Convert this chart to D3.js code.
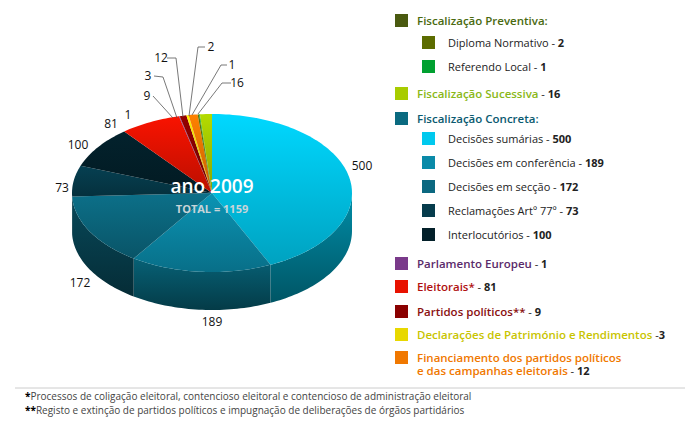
<!DOCTYPE html><html><head><meta charset="utf-8"><script src="https://cdn.jsdelivr.net/npm/d3@7"></script>
<style>body{margin:0;background:#fff}text{font-family:"Open Sans",sans-serif}</style></head><body>
<svg id="c" width="690" height="427"></svg>
<script>
const labels=["Decisões sumárias","Decisões em conferência","Decisões em secção","Reclamações Artº 77º","Interlocutórios","Eleitorais","Parlamento Europeu","Partidos políticos","Declarações de Património","Financiamento","Diploma Normativo","Referendo Local","Fiscalização Sucessiva"];
const values=[500,189,172,73,100,81,1,9,3,12,2,1,16];
const colors=["#00c9ee","#0a8aa8","#0b6880","#063c4c","#03202a","#e81200","#7a3a8a","#8a0000","#f2e200","#f27800","#5c6c00","#00a030","#a8cc00"];
const labelPos=[[362,166],[212,322],[80,283],[62,188],[78,145],[111,124],[128,115],[147,96],[148,76],[161,58],[211,47],[232,65],[237,83]];
const leader=[null,null,null,null,null,null,null,[[153,96],[173,118]],[[154,76],[163,77],[177,118]],[[167,58],[176,58],[183,117]],[[205,47],[198,47],[189,116]],[[227,65],[221,65],[192,115]],[[231,83],[222,83],[198,114]]];
const legend=[
 {t:"Fiscalização Preventiva:",v:"",c:"#4a5a10",tc:"#4a6a10",lvl:0,y:21},
 {t:"Diploma Normativo",v:"2",c:"#5c6c00",tc:"#222",lvl:1,y:43},
 {t:"Referendo Local",v:"1",c:"#00a030",tc:"#222",lvl:1,y:67},
 {t:"Fiscalização Sucessiva",v:"16",c:"#a8cc00",tc:"#8ab818",lvl:0,y:94},
 {t:"Fiscalização Concreta:",v:"",c:"#0a6a80",tc:"#0a5a70",lvl:0,y:119},
 {t:"Decisões sumárias",v:"500",c:"#00c9ee",tc:"#222",lvl:1,y:139},
 {t:"Decisões em conferência",v:"189",c:"#0a8aa8",tc:"#222",lvl:1,y:163},
 {t:"Decisões em secção",v:"172",c:"#0b6880",tc:"#222",lvl:1,y:187},
 {t:"Reclamações Artº 77º",v:"73",c:"#063c4c",tc:"#222",lvl:1,y:211},
 {t:"Interlocutórios",v:"100",c:"#03202a",tc:"#222",lvl:1,y:235},
 {t:"Parlamento Europeu",v:"1",c:"#7a3a8a",tc:"#5a2a6a",lvl:0,y:264},
 {t:"Eleitorais*",v:"81",c:"#e81200",tc:"#b01010",lvl:0,y:287},
 {t:"Partidos políticos**",v:"9",c:"#8a0000",tc:"#8a1010",lvl:0,y:312},
 {t:"Declarações de Património e Rendimentos",v:"3",c:"#e8d800",tc:"#c8c400",lvl:0,y:335,nosp:true},
 {t:"Financiamento dos partidos políticos",t2:"e das campanhas eleitorais",v:"12",c:"#f07800",tc:"#f07800",lvl:0,y:358}
];
const svg=d3.select("#c"),defs=svg.append("defs");
const cx=212,cy=193,rx=140,ry=79,dep=38;
const pie=d3.pie().sort(null).value(d=>d)(values);
const P=a=>[cx+rx*Math.sin(a),cy-ry*Math.cos(a)];
function arcPts(a0,a1,dy){const n=Math.max(2,Math.ceil((a1-a0)*40));return d3.range(n+1).map(i=>{const a=a0+(a1-a0)*i/n;const p=P(a);return [p[0],p[1]+dy];});}
colors.forEach((c,i)=>{
 const g=defs.append("linearGradient").attr("id","t"+i).attr("x1",0).attr("y1",0).attr("x2",0).attr("y2",1);
 g.append("stop").attr("offset",0).attr("stop-color",d3.color(c).brighter(0.2));
 g.append("stop").attr("offset",1).attr("stop-color",d3.color(c).darker(0.6));
 const s=defs.append("linearGradient").attr("id","s"+i).attr("x1",0).attr("y1",0).attr("x2",0).attr("y2",1);
 s.append("stop").attr("offset",0).attr("stop-color",d3.color(c).darker(1.0));
 s.append("stop").attr("offset",1).attr("stop-color",d3.color(c).darker(2.4));
});
const line=d3.line();
pie.forEach((d,i)=>{
 const a0=Math.max(d.startAngle,Math.PI/2),a1=Math.min(d.endAngle,Math.PI*1.5);
 if(a1<=a0)return;
 const top=arcPts(a0,a1,0),bot=arcPts(a0,a1,dep).reverse();
 svg.append("path").attr("d",line(top.concat(bot))+"Z").attr("fill",`url(#s${i})`);
});
pie.forEach((d,i)=>{
 const pts=[[cx,cy]].concat(arcPts(d.startAngle,d.endAngle,0));
 svg.append("path").attr("d",line(pts)+"Z").attr("fill",`url(#t${i})`);
});
pie.forEach((d,i)=>{
 if(leader[i])svg.append("path").attr("d",line(leader[i])).attr("fill","none").attr("stroke","#555").attr("stroke-width",0.8);
 svg.append("text").attr("x",labelPos[i][0]).attr("y",labelPos[i][1]).attr("text-anchor","middle").attr("dy","0.35em").attr("font-size",12).attr("fill","#111").text(values[i]);
});
svg.append("text").attr("x",cx).attr("y",cy).attr("text-anchor","middle").attr("font-size",19).attr("font-weight",600).attr("fill","#fff").text("ano 2009");
svg.append("text").attr("x",cx).attr("y",cy+20).attr("text-anchor","middle").attr("font-size",11).attr("font-weight","bold").attr("fill","#c8d4d8").text("TOTAL = "+d3.sum(values));
legend.forEach(l=>{
 const sx=l.lvl?422:395,tx=l.lvl?448:417,fs=l.lvl?11:11.5;
 svg.append("rect").attr("x",sx).attr("y",l.y-7).attr("width",13).attr("height",13).attr("fill",l.c);
 const t=svg.append("text").attr("x",tx).attr("y",l.y).attr("dy","0.35em").attr("font-size",fs);
 t.append("tspan").attr("fill",l.tc).attr("font-weight",l.lvl?"normal":"600").text(l.t);
 if(l.t2){const t2=svg.append("text").attr("x",tx).attr("y",l.y+13).attr("dy","0.35em").attr("font-size",fs);
  t2.append("tspan").attr("fill",l.tc).attr("font-weight","600").text(l.t2);
  t2.append("tspan").attr("fill","#222").attr("font-size",11).text(" - ");t2.append("tspan").attr("font-weight","bold").attr("font-size",11).attr("fill","#222").text(l.v);}
 else if(l.v){t.append("tspan").attr("fill","#222").attr("font-size",11).text(l.nosp?" -":" - ");t.append("tspan").attr("font-weight","bold").attr("font-size",11).attr("fill","#222").text(l.v);}
});
svg.append("line").attr("x1",15).attr("x2",685).attr("y1",388).attr("y2",388).attr("stroke","#ccc");
const f1=svg.append("text").attr("x",25).attr("y",400).attr("font-size",10).attr("fill","#444");
f1.append("tspan").attr("font-weight","bold").attr("fill","#000").text("*");f1.append("tspan").text("Processos de coligação eleitoral, contencioso eleitoral e contencioso de administração eleitoral");
const f2=svg.append("text").attr("x",25).attr("y",414).attr("font-size",10).attr("fill","#444");
f2.append("tspan").attr("font-weight","bold").attr("fill","#000").text("**");f2.append("tspan").text("Registo e extinção de partidos políticos e impugnação de deliberações de órgãos partidários");
</script></body></html>
